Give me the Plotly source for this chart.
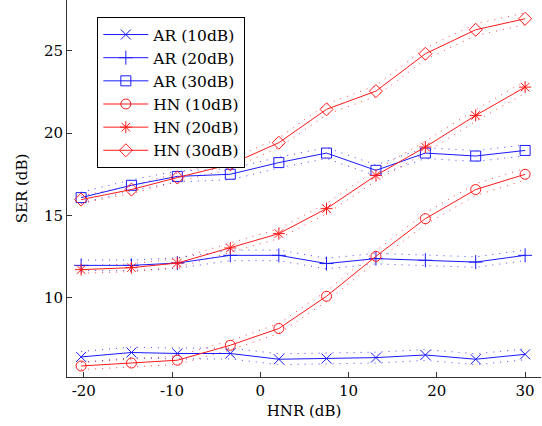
import plotly.graph_objects as go

hnr = [-20.3, -14.6, -9.4, -3.4, 2.1, 7.5, 13.1, 18.7, 24.4, 30.0]

ar_10 = [6.39, 6.66, 6.60, 6.60, 6.25, 6.29, 6.35, 6.51, 6.25, 6.55]
ar_20 = [11.96, 11.96, 12.10, 12.57, 12.57, 12.07, 12.37, 12.27, 12.16, 12.57]
ar_30 = [16.08, 16.83, 17.37, 17.50, 18.21, 18.79, 17.74, 18.79, 18.61, 18.95]
hn_10 = [5.84, 6.02, 6.19, 7.10, 8.12, 10.08, 12.51, 14.80, 16.57, 17.50]
hn_20 = [11.70, 11.82, 12.10, 13.02, 13.89, 15.41, 17.43, 19.16, 21.08, 22.80]
hn_30 = [15.96, 16.57, 17.30, 18.10, 19.42, 21.45, 22.56, 24.83, 26.29, 26.96]

x_ticks = [-20, -10, 0, 10, 20, 30]
x_ticklabels = ["-20", "-10", "0", "10", "20", "30"]
y_ticks = [10, 15, 20, 25]

# confidence half-widths (dB)
ci_ar_10 = [0.33, 0.33, 0.33, 0.33, 0.33, 0.33, 0.33, 0.33, 0.33, 0.33]
ci_ar_20 = [0.32, 0.32, 0.32, 0.32, 0.32, 0.32, 0.32, 0.32, 0.32, 0.32]
ci_ar_30 = [0.33, 0.33, 0.33, 0.33, 0.33, 0.33, 0.33, 0.33, 0.33, 0.33]
ci_hn_10 = [0.22, 0.24, 0.26, 0.28, 0.30, 0.32, 0.33, 0.35, 0.36, 0.36]
ci_hn_20 = [0.22, 0.24, 0.26, 0.28, 0.30, 0.32, 0.33, 0.35, 0.36, 0.36]
ci_hn_30 = [0.22, 0.24, 0.26, 0.28, 0.30, 0.32, 0.33, 0.35, 0.36, 0.36]

series = [
    ("AR (10dB)", ar_10, ci_ar_10, "#1a1aff", "x-thin-open"),
    ("AR (20dB)", ar_20, ci_ar_20, "#1a1aff", "cross-thin-open"),
    ("AR (30dB)", ar_30, ci_ar_30, "#1a1aff", "square-open"),
    ("HN (10dB)", hn_10, ci_hn_10, "#ff1a1a", "circle-open"),
    ("HN (20dB)", hn_20, ci_hn_20, "#ff1a1a", "asterisk-open"),
    ("HN (30dB)", hn_30, ci_hn_30, "#ff1a1a", "diamond-open"),
]

fig = go.Figure()
for name, vals, ci, color, sym in series:
    for sign in (1, -1):
        fig.add_trace(go.Scatter(
            x=hnr, y=[v + sign * c for v, c in zip(vals, ci)],
            mode="lines", line=dict(color=color, width=1, dash="1px,6px"),
            opacity=0.8, showlegend=False, hoverinfo="skip"))
for name, vals, ci, color, sym in series:
    fig.add_trace(go.Scatter(
        x=hnr, y=vals, name=name, mode="lines+markers",
        line=dict(color=color, width=1),
        marker=dict(symbol=sym, size=10, color=color, line=dict(width=1, color=color))))

serif = "DejaVu Serif"
font = dict(family=serif, size=15, color="black")
fig.update_layout(
    width=542, height=426,
    margin=dict(l=67, r=1, t=0, b=49),
    paper_bgcolor="white", plot_bgcolor="white",
    font=font,
    showlegend=True,
    legend=dict(x=0.064, y=0.955, xanchor="left", yanchor="top",
                bordercolor="black", borderwidth=1, bgcolor="white",
                font=dict(family=serif, size=15.5, color="black"),
                tracegroupgap=0, itemwidth=45, entrywidth=128),
    xaxis=dict(range=[-21.9, 31.8], tickvals=x_ticks, ticktext=x_ticklabels,
               ticks="inside", ticklen=5, tickcolor="#333", showgrid=False, zeroline=False,
               showline=True, linecolor="#333", linewidth=1,
               tickfont=font,
               title=dict(text="HNR (dB)", font=font, standoff=6)),
    yaxis=dict(range=[5.17, 28.1], tickvals=y_ticks,
               ticks="inside", ticklen=5, tickcolor="#333", showgrid=False, zeroline=False,
               showline=True, linecolor="#333", linewidth=1,
               tickfont=font,
               title=dict(text="SER (dB)", font=font, standoff=12)),
)

fig.write_html("out.html")
